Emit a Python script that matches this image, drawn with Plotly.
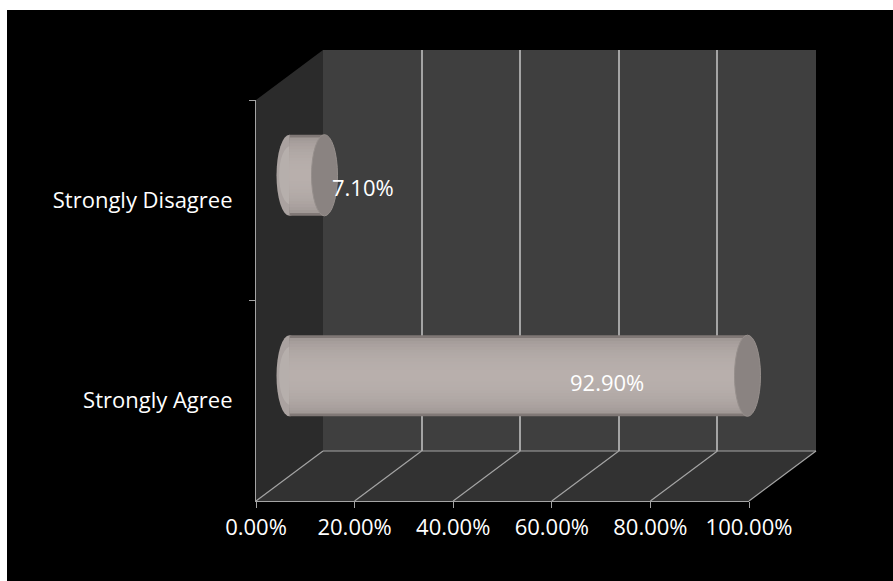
import math
import plotly.graph_objects as go

# ---- data ----
CATEGORIES = ["Strongly Agree", "Strongly Disagree"]
VALUES = [0.929, 0.071]
TICK_VALUES = [0.0, 0.2, 0.4, 0.6, 0.8, 1.0]
TICK_TEXT = ["0.00%", "20.00%", "40.00%", "60.00%", "80.00%", "100.00%"]

# ---- layout geometry (pixels) ----
W, H = 893, 581
FX0, FX1 = 256, 749        # front plane: 0% and 100%
FY_TOP, FY_BOT = 100, 501  # front plane vertical extent
DX, DY = 67, -50           # depth offset front -> back wall
PAD = 0.1                  # extra range on the bar plane so the end caps fit

SPAN = FX1 - FX0

def px(x):
    return x / W

def py(y):
    return 1 - y / H

FONT = "Open Sans"
FSIZE = 22
GRID = "#a4a4a4"

fig = go.Figure()

# empty traces so the back-wall and front-plane subplots get drawn
fig.add_trace(go.Scatter(x=[None], y=[None], xaxis="x", yaxis="y",
                         hoverinfo="skip", showlegend=False))
fig.add_trace(go.Scatter(x=[None, None], y=CATEGORIES, xaxis="x3", yaxis="y3",
                         mode="markers", hoverinfo="skip", showlegend=False))

# cylinder body: many overlaid bands shading from the rim to the centre
BAR_H = 0.405
EDGE_RGB = (128, 120, 118)
MID_RGB = (184, 175, 172)
N_BANDS = 14
for k in range(N_BANDS):
    frac = 1 - k / N_BANDS                 # relative band thickness
    shade = math.sqrt(1 - frac**2) if frac < 1 else 0.0
    shade = 0.35 + 0.65 * shade if k else 0.0
    rgb = tuple(round(e + (m - e) * shade) for e, m in zip(EDGE_RGB, MID_RGB))
    fig.add_trace(go.Bar(
        x=VALUES, y=CATEGORIES, orientation="h", width=BAR_H * frac,
        marker=dict(color=f"rgb{rgb}", line=dict(width=0)),
        xaxis="x2", yaxis="y2", hoverinfo="skip", showlegend=False,
    ))

CAP_RX = 13 / SPAN

shapes = []
# black canvas inside a thin white frame
shapes.append(dict(type="rect", xref="paper", yref="paper",
                   x0=px(7), x1=1, y0=0, y1=py(10),
                   fillcolor="black", line=dict(width=0), layer="below"))
# left side wall
shapes.append(dict(type="path", xref="paper", yref="paper",
                   path=f"M {px(FX0)},{py(FY_TOP)} L {px(FX0+DX)},{py(FY_TOP+DY)} "
                        f"L {px(FX0+DX)},{py(FY_BOT+DY)} L {px(FX0)},{py(FY_BOT)} Z",
                   fillcolor="#2b2b2b", line=dict(width=0), layer="below"))
# back wall
shapes.append(dict(type="rect", xref="paper", yref="paper",
                   x0=px(FX0+DX), x1=px(FX1+DX), y0=py(FY_BOT+DY), y1=py(FY_TOP+DY),
                   fillcolor="#3f3f3f", line=dict(width=0), layer="below"))
# floor
shapes.append(dict(type="path", xref="paper", yref="paper",
                   path=f"M {px(FX0)},{py(FY_BOT)} L {px(FX0+DX)},{py(FY_BOT+DY)} "
                        f"L {px(FX1+DX)},{py(FY_BOT+DY)} L {px(FX1)},{py(FY_BOT)} Z",
                   fillcolor="#323232", line=dict(width=0), layer="below"))
# floor grid: diagonals from each front tick back to the wall, plus the back edge
for t in TICK_VALUES:
    shapes.append(dict(type="line", xref="paper", yref="paper",
                       x0=px(FX0 + t*SPAN), y0=py(FY_BOT),
                       x1=px(FX0 + DX + t*SPAN), y1=py(FY_BOT + DY),
                       line=dict(color=GRID, width=1.2), layer="below"))
shapes.append(dict(type="line", xref="paper", yref="paper",
                   x0=px(FX0+DX), x1=px(FX1+DX), y0=py(FY_BOT+DY), y1=py(FY_BOT+DY),
                   line=dict(color=GRID, width=1.2), layer="below"))

# cylinder end caps on the bar plane
for i, v in enumerate(VALUES):
    # rounded near end, lit from the left
    shapes.append(dict(type="circle", xref="x2", yref="y2",
                       x0=-CAP_RX, x1=CAP_RX, y0=i - BAR_H/2, y1=i + BAR_H/2,
                       fillcolor="#aaa2a0", line=dict(width=0), layer="between"))
    shapes.append(dict(type="circle", xref="x2", yref="y2",
                       x0=-CAP_RX*0.8, x1=CAP_RX, y0=i - BAR_H*0.36, y1=i + BAR_H*0.36,
                       fillcolor="#b6afac", line=dict(width=0), layer="between"))
    # far end face
    shapes.append(dict(type="circle", xref="x2", yref="y2",
                       x0=v - CAP_RX, x1=v + CAP_RX, y0=i - BAR_H/2, y1=i + BAR_H/2,
                       fillcolor="#8a8381", line=dict(color="#968f8c", width=1),
                       layer="above"))

# value labels
LABEL_X = [0.643, 0.149]
LABEL_DY = [-0.03, -0.06]
annotations = []
for i, v in enumerate(VALUES):
    annotations.append(dict(x=LABEL_X[i], y=i + LABEL_DY[i], xref="x2", yref="y2",
                            text=f"{v*100:.2f}%", showarrow=False,
                            font=dict(family=FONT, size=FSIZE, color="white")))

mid_x0 = FX0 + DX/2 - PAD*SPAN
mid_x1 = FX1 + DX/2 + PAD*SPAN

fig.update_layout(
    width=W, height=H,
    margin=dict(l=0, r=0, t=0, b=0, autoexpand=False),
    paper_bgcolor="white", plot_bgcolor="rgba(0,0,0,0)",
    barmode="overlay", showlegend=False,
    font=dict(family=FONT, color="white"),
    shapes=shapes, annotations=annotations,
    # back wall plane: vertical gridlines
    xaxis=dict(domain=[px(FX0+DX), px(FX1+DX)], range=[0, 1], anchor="y",
               tickvals=TICK_VALUES, showticklabels=False, ticks="",
               showgrid=True, gridcolor=GRID, gridwidth=1.5,
               zeroline=False, showline=False, fixedrange=True, automargin=False),
    yaxis=dict(domain=[py(FY_BOT+DY), py(FY_TOP+DY)], range=[0, 1], anchor="x",
               showgrid=False, zeroline=False, showline=False,
               showticklabels=False, ticks="", fixedrange=True, automargin=False),
    # middle plane: the cylinders
    xaxis2=dict(domain=[px(mid_x0), px(mid_x1)], range=[-PAD, 1+PAD], anchor="y2",
                visible=False, fixedrange=True, automargin=False),
    yaxis2=dict(domain=[py(FY_BOT+DY/2), py(FY_TOP+DY/2)], type="category",
                categoryorder="array", categoryarray=CATEGORIES,
                range=[-0.5, 1.5], anchor="x2", visible=False, fixedrange=True,
                automargin=False),
    # front plane: axis lines, ticks and labels
    xaxis3=dict(domain=[px(FX0), px(FX1)], range=[0, 1], anchor="y3",
                tickvals=TICK_VALUES, ticktext=TICK_TEXT,
                ticks="outside", ticklen=6, tickcolor=GRID, tickwidth=1.2,
                showline=True, linecolor=GRID, linewidth=1.2,
                showgrid=False, zeroline=False, automargin=False,
                tickfont=dict(family=FONT, size=FSIZE, color="white"), fixedrange=True),
    yaxis3=dict(domain=[py(FY_BOT), py(FY_TOP)], type="category",
                categoryorder="array", categoryarray=CATEGORIES,
                range=[-0.5, 1.5], anchor="x3",
                tickson="boundaries", ticks="outside", ticklen=6,
                tickcolor=GRID, tickwidth=1.2,
                showline=True, linecolor=GRID, linewidth=1.2,
                showgrid=False, zeroline=False, ticklabelstandoff=18, automargin=False,
                tickfont=dict(family=FONT, size=FSIZE, color="white"), fixedrange=True),
)

fig.write_html("out.html")
